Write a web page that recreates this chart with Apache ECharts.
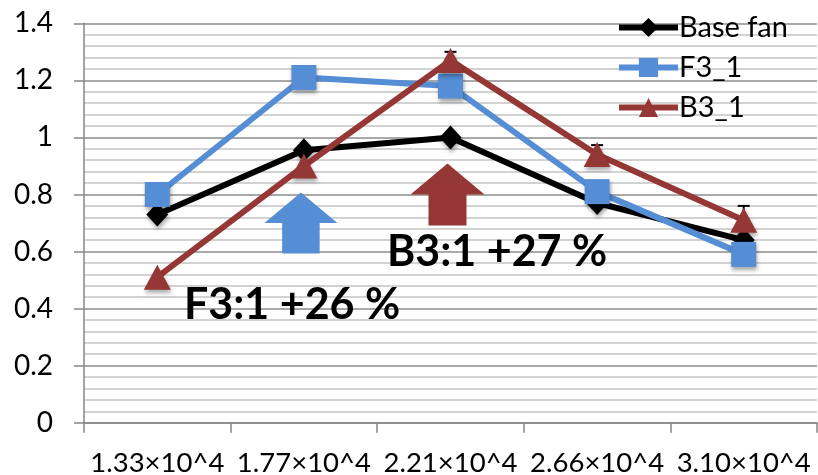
<!DOCTYPE html>
<html>
<head>
<meta charset="utf-8">
<script src="https://cdn.jsdelivr.net/npm/echarts@6/dist/echarts.min.js"></script>
<style>html,body{margin:0;padding:0;background:#fff;}#c{width:818px;height:475px;}</style>
</head>
<body>
<div id="c"></div>
<script>
var categories = ['1.33×10^4', '1.77×10^4', '2.21×10^4', '2.66×10^4', '3.10×10^4'];
var baseFan = [0.73, 0.955, 1.00, 0.77, 0.64];
var f3_1 = [0.80, 1.21, 1.18, 0.81, 0.59];
var b3_1 = [0.51, 0.90, 1.27, 0.94, 0.71];
var b3_1Upper = [null, null, 1.30, 0.973, 0.76];
var yTicks = [0, 0.2, 0.4, 0.6, 0.8, 1, 1.2, 1.4];

var chart = echarts.init(document.getElementById('c'), null, {renderer: 'canvas'});
var FONT = 'Lato';
var arrowPath = 'path://M37,0 L74,31 L56,31 L56,62 L18,62 L18,31 L0,31 Z';
var shadow = {shadowBlur: 4, shadowColor: 'rgba(0,0,0,0.35)', shadowOffsetX: 1, shadowOffsetY: 3};

chart.setOption({
  animation: false,
  grid: {left: 84, right: 1, top: 23.3, bottom: 52.3, containLabel: false, outerBoundsMode: 'none'},
  legend: {
    orient: 'vertical', left: 611, top: 8,
    itemWidth: 59, itemHeight: 24, itemGap: 11,
    lineStyle: {width: 6},
    textStyle: {fontFamily: FONT, fontSize: 29, color: '#000', padding: [0, 0, 0, -4]},
    data: ['Base fan', 'F3_1', 'B3_1']
  },
  xAxis: {
    type: 'category', data: categories, boundaryGap: true,
    axisLine: {lineStyle: {color: '#868686', width: 1.5}},
    axisTick: {show: true, length: 10, alignWithLabel: false, lineStyle: {color: '#868686', width: 1.5}},
    axisLabel: {fontFamily: FONT, fontSize: 27.5, color: '#000', margin: 26, interval: 0},
    splitLine: {show: false}
  },
  yAxis: {
    type: 'value', min: 0, max: 1.4, interval: 0.2,
    axisLine: {show: true, lineStyle: {color: '#868686', width: 1.5}},
    axisTick: {show: true, length: 10, lineStyle: {color: '#868686', width: 1.5}},
    axisLabel: {fontFamily: FONT, fontSize: 28, color: '#000', margin: 31,
      formatter: function (v) { var s = yTicks.indexOf(Math.round(v * 10) / 10) >= 0 ? String(Math.round(v * 10) / 10) : ''; return s; }},
    splitLine: {show: true, lineStyle: {color: '#8c8c8c', width: 1.5}},
    minorTick: {show: false, splitNumber: 5},
    minorSplitLine: {show: true, lineStyle: {color: '#c4c4c4', width: 1.5}}
  },
  graphic: [
    {type: 'text', z: 100, left: 387, top: 258 - 27, style: {text: 'B3:1 +27 %', fontFamily: FONT, fontWeight: 'bold', fontSize: 43, fill: '#000'}},
    {type: 'text', z: 100, left: 184, top: 311 - 27, style: {text: 'F3:1 +26 %', fontFamily: FONT, fontWeight: 'bold', fontSize: 43, fill: '#000'}}
  ],
  series: [
    {
      name: 'errB3', type: 'custom', z: 1,
      data: b3_1.map(function (v, i) { return [i, v, b3_1Upper[i]]; }),
      renderItem: function (params, api) {
        var up = api.value(2);
        if (up === null || up === undefined || isNaN(up)) return;
        var p0 = api.coord([api.value(0), api.value(1)]);
        var p1 = api.coord([api.value(0), up]);
        var s = {stroke: '#000', lineWidth: 2};
        return {type: 'group', children: [
          {type: 'line', shape: {x1: p0[0], y1: p0[1], x2: p1[0], y2: p1[1]}, style: s},
          {type: 'line', shape: {x1: p1[0] - 6, y1: p1[1], x2: p1[0] + 6, y2: p1[1]}, style: s}
        ]};
      }
    },
    {
      name: 'Base fan', type: 'line', data: baseFan, z: 2,
      symbol: 'diamond', symbolSize: [22, 24],
      lineStyle: {color: '#000', width: 6},
      itemStyle: Object.assign({color: '#000'}, shadow)
    },
    {
      name: 'F3_1', type: 'line', data: f3_1, z: 3,
      symbol: 'rect', symbolSize: 25,
      lineStyle: {color: '#558ED5', width: 6},
      itemStyle: Object.assign({color: '#558ED5'}, shadow),
      markPoint: {
        symbol: arrowPath, symbolSize: [73, 61], symbolOffset: [-3, 0], symbolKeepAspect: false,
        label: {show: false}, itemStyle: {color: '#558ED5'},
        data: [{coord: [1, 0.70]}]
      }
    },
    {
      name: 'B3_1', type: 'line', data: b3_1, z: 4,
      symbol: 'triangle', symbolSize: [27, 25],
      lineStyle: {color: '#953735', width: 6},
      itemStyle: Object.assign({color: '#953735'}, shadow),
      markPoint: {
        symbol: arrowPath, symbolSize: [74, 62], symbolOffset: [-3, 0], symbolKeepAspect: false,
        label: {show: false}, itemStyle: {color: '#953735'},
        data: [{coord: [2, 0.80]}]
      }
    }
  ]
});
</script>
</body>
</html>
